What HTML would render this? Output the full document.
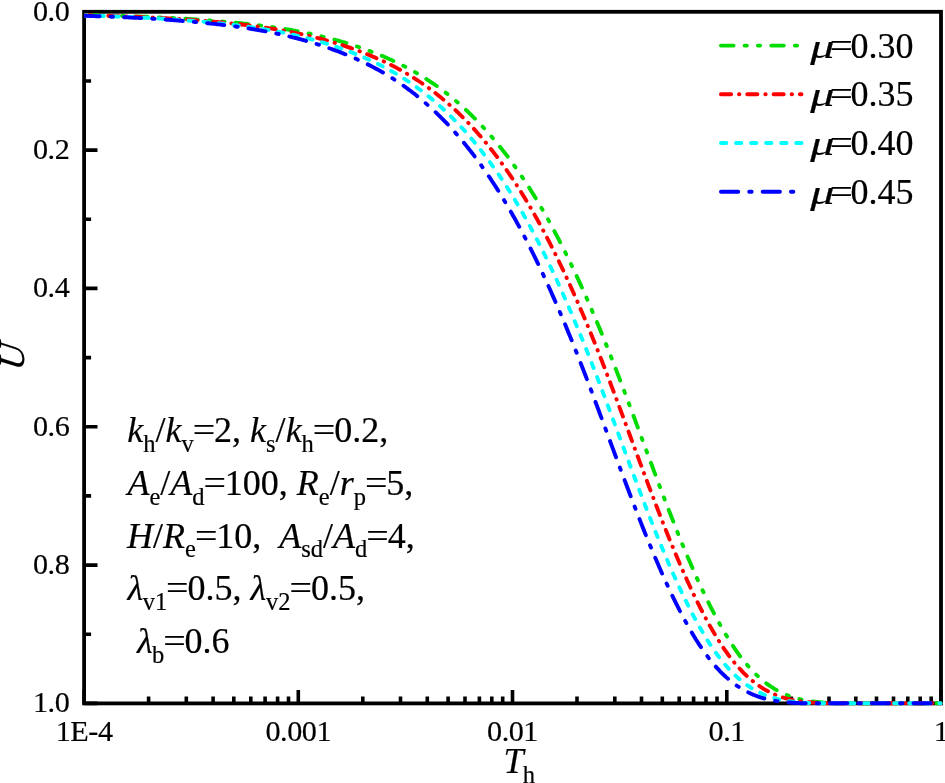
<!DOCTYPE html>
<html lang="en"><head><meta charset="utf-8"><title>U vs Th</title>
<style>html,body{margin:0;padding:0;background:#fff}body{width:945px;height:783px;overflow:hidden}svg{display:block}text{font-family:"Liberation Serif", serif;fill:#000;stroke:#000;stroke-width:0.2px}.t{letter-spacing:-0.45px}.i{font-style:italic}</style>
</head><body>
<svg width="945" height="783" viewBox="0 0 945 783">
<rect width="945" height="783" fill="#fff"/>
<rect x="84.1" y="11.8" width="856.9" height="691.6" fill="none" stroke="#000" stroke-width="3.8"/>
<path d="M84.1,11.8h13.4 M84.1,81.0h7.0 M84.1,150.1h13.4 M84.1,219.3h7.0 M84.1,288.4h13.4 M84.1,357.6h7.0 M84.1,426.8h13.4 M84.1,495.9h7.0 M84.1,565.1h13.4 M84.1,634.2h7.0 M84.1,703.4h13.4 M84.1,703.4v-13.4 M148.6,703.4v-7.0 M186.3,703.4v-7.0 M213.1,703.4v-7.0 M233.8,703.4v-7.0 M250.8,703.4v-7.0 M265.1,703.4v-7.0 M277.6,703.4v-7.0 M288.5,703.4v-7.0 M298.3,703.4v-13.4 M362.8,703.4v-7.0 M400.5,703.4v-7.0 M427.3,703.4v-7.0 M448.1,703.4v-7.0 M465.0,703.4v-7.0 M479.4,703.4v-7.0 M491.8,703.4v-7.0 M502.7,703.4v-7.0 M512.5,703.4v-13.4 M577.0,703.4v-7.0 M614.8,703.4v-7.0 M641.5,703.4v-7.0 M662.3,703.4v-7.0 M679.2,703.4v-7.0 M693.6,703.4v-7.0 M706.0,703.4v-7.0 M717.0,703.4v-7.0 M726.8,703.4v-13.4 M791.3,703.4v-7.0 M829.0,703.4v-7.0 M855.8,703.4v-7.0 M876.5,703.4v-7.0 M893.5,703.4v-7.0 M907.8,703.4v-7.0 M920.2,703.4v-7.0 M931.2,703.4v-7.0 M941.0,703.4v-13.4" stroke="#000" stroke-width="3.6" fill="none"/>
<clipPath id="c"><rect x="84.1" y="9.8" width="858.9" height="696.1"/></clipPath>
<g clip-path="url(#c)" fill="none" stroke-linecap="round" stroke-linejoin="round" stroke-width="3.9">
<path d="M84.1,15.0 L85.6,15.0 L87.1,15.0 L88.6,15.1 L90.1,15.1 L91.6,15.1 L93.1,15.2 L94.6,15.2 L96.1,15.2 L97.6,15.3 L99.1,15.3 L100.6,15.3 L102.1,15.4 L103.6,15.4 L105.1,15.4 L106.6,15.5 L108.1,15.5 L109.6,15.6 L111.1,15.6 L112.6,15.7 L114.1,15.7 L115.6,15.7 L117.1,15.8 L118.6,15.8 L120.1,15.9 L121.6,15.9 L123.1,16.0 L124.6,16.0 L126.1,16.1 L127.6,16.1 L129.1,16.2 L130.6,16.2 L132.1,16.3 L133.6,16.3 L135.1,16.4 L136.6,16.4 L138.1,16.5 L139.6,16.5 L141.1,16.6 L142.6,16.7 L144.1,16.7 L145.6,16.8 L147.1,16.8 L148.6,16.9 L150.1,17.0 L151.6,17.0 L153.1,17.1 L154.6,17.2 L156.1,17.2 L157.6,17.3 L159.1,17.4 L160.6,17.4 L162.1,17.5 L163.6,17.6 L165.1,17.6 L166.6,17.7 L168.1,17.8 L169.6,17.9 L171.1,18.0 L172.6,18.0 L174.1,18.1 L175.6,18.2 L177.1,18.3 L178.6,18.4 L180.1,18.5 L181.6,18.5 L183.1,18.6 L184.6,18.7 L186.1,18.8 L187.6,18.9 L189.1,19.0 L190.6,19.1 L192.1,19.2 L193.6,19.3 L195.1,19.4 L196.6,19.5 L198.1,19.6 L199.6,19.7 L201.1,19.8 L202.6,19.9 L204.1,20.0 L205.6,20.1 L207.1,20.3 L208.6,20.4 L210.1,20.5 L211.6,20.6 L213.1,20.7 L214.6,20.8 L216.1,21.0 L217.6,21.1 L219.1,21.2 L220.6,21.3 L222.1,21.5 L223.6,21.6 L225.1,21.7 L226.6,21.9 L228.1,22.0 L229.6,22.2 L231.1,22.3 L232.6,22.4 L234.1,22.6 L235.6,22.7 L237.1,22.9 L238.6,23.0 L240.1,23.2 L241.6,23.3 L243.1,23.5 L244.6,23.6 L246.1,23.8 L247.6,24.0 L249.1,24.1 L250.6,24.3 L252.1,24.5 L253.6,24.6 L255.1,24.8 L256.6,25.0 L258.1,25.2 L259.6,25.4 L261.1,25.6 L262.6,25.7 L264.1,25.9 L265.6,26.1 L267.1,26.3 L268.6,26.5 L270.1,26.8 L271.6,27.0 L273.1,27.2 L274.6,27.4 L276.1,27.6 L277.6,27.8 L279.1,28.1 L280.6,28.3 L282.1,28.5 L283.6,28.8 L285.1,29.0 L286.6,29.3 L288.1,29.5 L289.6,29.8 L291.1,30.0 L292.6,30.3 L294.1,30.6 L295.6,30.8 L297.1,31.1 L298.6,31.4 L300.1,31.7 L301.6,32.0 L303.1,32.3 L304.6,32.6 L306.1,32.9 L307.6,33.2 L309.1,33.5 L310.6,33.8 L312.1,34.2 L313.6,34.5 L315.1,34.8 L316.6,35.2 L318.1,35.5 L319.6,35.9 L321.1,36.2 L322.6,36.6 L324.1,36.9 L325.6,37.3 L327.1,37.7 L328.6,38.1 L330.1,38.5 L331.6,38.9 L333.1,39.3 L334.6,39.7 L336.1,40.1 L337.6,40.5 L339.1,40.9 L340.6,41.3 L342.1,41.8 L343.6,42.2 L345.1,42.7 L346.6,43.1 L348.1,43.6 L349.6,44.1 L351.1,44.5 L352.6,45.0 L354.1,45.5 L355.6,46.0 L357.1,46.5 L358.6,47.0 L360.1,47.5 L361.6,48.0 L363.1,48.6 L364.6,49.1 L366.1,49.6 L367.6,50.2 L369.1,50.8 L370.6,51.3 L372.1,51.9 L373.6,52.5 L375.1,53.1 L376.6,53.7 L378.1,54.3 L379.6,54.9 L381.1,55.5 L382.6,56.1 L384.1,56.8 L385.6,57.4 L387.1,58.1 L388.6,58.7 L390.1,59.4 L391.6,60.1 L393.1,60.8 L394.6,61.5 L396.1,62.2 L397.6,62.9 L399.1,63.6 L400.6,64.4 L402.1,65.1 L403.6,65.9 L405.1,66.7 L406.6,67.5 L408.1,68.3 L409.6,69.1 L411.1,69.9 L412.6,70.7 L414.1,71.6 L415.6,72.5 L417.1,73.3 L418.6,74.2 L420.1,75.1 L421.6,76.0 L423.1,77.0 L424.6,77.9 L426.1,78.9 L427.6,79.8 L429.1,80.8 L430.6,81.8 L432.1,82.8 L433.6,83.8 L435.1,84.9 L436.6,85.9 L438.1,87.0 L439.6,88.1 L441.1,89.2 L442.6,90.3 L444.1,91.5 L445.6,92.6 L447.1,93.8 L448.6,95.0 L450.1,96.2 L451.6,97.4 L453.1,98.6 L454.6,99.9 L456.1,101.1 L457.6,102.4 L459.1,103.7 L460.6,105.0 L462.1,106.4 L463.6,107.7 L465.1,109.1 L466.6,110.5 L468.1,111.9 L469.6,113.4 L471.1,114.8 L472.6,116.3 L474.1,117.8 L475.6,119.3 L477.1,120.8 L478.6,122.4 L480.1,124.0 L481.6,125.6 L483.1,127.2 L484.6,128.8 L486.1,130.5 L487.6,132.1 L489.1,133.8 L490.6,135.5 L492.1,137.3 L493.6,139.1 L495.1,140.8 L496.6,142.6 L498.1,144.5 L499.6,146.3 L501.1,148.2 L502.6,150.1 L504.1,152.0 L505.6,154.0 L507.1,155.9 L508.6,157.9 L510.1,160.0 L511.6,162.0 L513.1,164.1 L514.6,166.2 L516.1,168.3 L517.6,170.4 L519.1,172.6 L520.6,174.8 L522.1,177.0 L523.6,179.2 L525.1,181.5 L526.6,183.8 L528.1,186.1 L529.6,188.4 L531.1,190.8 L532.6,193.2 L534.1,195.6 L535.6,198.1 L537.1,200.6 L538.6,203.1 L540.1,205.6 L541.6,208.2 L543.1,210.8 L544.6,213.4 L546.1,216.0 L547.6,218.7 L549.1,221.4 L550.6,224.1 L552.1,226.9 L553.6,229.7 L555.1,232.5 L556.6,235.4 L558.1,238.2 L559.6,241.1 L561.1,244.1 L562.6,247.0 L564.1,250.0 L565.6,253.0 L567.1,256.1 L568.6,259.1 L570.1,262.2 L571.6,265.3 L573.1,268.5 L574.6,271.7 L576.1,274.9 L577.6,278.1 L579.1,281.4 L580.6,284.6 L582.1,288.0 L583.6,291.3 L585.1,294.7 L586.6,298.0 L588.1,301.5 L589.6,304.9 L591.1,308.4 L592.6,311.9 L594.1,315.4 L595.6,318.9 L597.1,322.5 L598.6,326.1 L600.1,329.7 L601.6,333.3 L603.1,337.0 L604.6,340.7 L606.1,344.4 L607.6,348.2 L609.1,351.9 L610.6,355.7 L612.1,359.5 L613.6,363.4 L615.1,367.2 L616.6,371.1 L618.1,375.0 L619.6,378.9 L621.1,382.9 L622.6,386.8 L624.1,390.8 L625.6,394.8 L627.1,398.7 L628.6,402.7 L630.1,406.8 L631.6,410.8 L633.1,414.8 L634.6,418.8 L636.1,422.9 L637.6,426.9 L639.1,431.0 L640.6,435.0 L642.1,439.1 L643.6,443.1 L645.1,447.2 L646.6,451.2 L648.1,455.2 L649.6,459.3 L651.1,463.3 L652.6,467.3 L654.1,471.4 L655.6,475.4 L657.1,479.4 L658.6,483.4 L660.1,487.3 L661.6,491.3 L663.1,495.2 L664.6,499.2 L666.1,503.1 L667.6,507.0 L669.1,510.9 L670.6,514.7 L672.1,518.6 L673.6,522.4 L675.1,526.2 L676.6,530.0 L678.1,533.7 L679.6,537.4 L681.1,541.1 L682.6,544.8 L684.1,548.4 L685.6,552.0 L687.1,555.6 L688.6,559.1 L690.1,562.6 L691.6,566.1 L693.1,569.5 L694.6,572.9 L696.1,576.3 L697.6,579.6 L699.1,582.9 L700.6,586.1 L702.1,589.4 L703.6,592.5 L705.1,595.7 L706.6,598.8 L708.1,601.8 L709.6,604.8 L711.1,607.8 L712.6,610.7 L714.1,613.6 L715.6,616.5 L717.1,619.3 L718.6,622.0 L720.1,624.7 L721.6,627.4 L723.1,630.0 L724.6,632.6 L726.1,635.1 L727.6,637.6 L729.1,640.0 L730.6,642.3 L732.1,644.7 L733.6,646.9 L735.1,649.1 L736.6,651.3 L738.1,653.4 L739.6,655.5 L741.1,657.4 L742.6,659.4 L744.1,661.3 L745.6,663.1 L747.1,664.9 L748.6,666.6 L750.1,668.3 L751.6,669.9 L753.1,671.5 L754.6,673.0 L756.1,674.5 L757.6,675.9 L759.1,677.3 L760.6,678.6 L762.1,679.9 L763.6,681.1 L765.1,682.3 L766.6,683.5 L768.1,684.6 L769.6,685.6 L771.1,686.7 L772.6,687.6 L774.1,688.6 L775.6,689.5 L777.1,690.3 L778.6,691.2 L780.1,692.0 L781.6,692.7 L783.1,693.4 L784.6,694.1 L786.1,694.7 L787.6,695.3 L789.1,695.9 L790.6,696.4 L792.1,697.0 L793.6,697.4 L795.1,697.9 L796.6,698.3 L798.1,698.7 L799.6,699.1 L801.1,699.5 L802.6,699.8 L804.1,700.1 L805.6,700.4 L807.1,700.6 L808.6,700.9 L810.1,701.1 L811.6,701.3 L813.1,701.5 L814.6,701.7 L816.1,701.9 L817.6,702.0 L819.1,702.2 L820.6,702.3 L822.1,702.4 L823.6,702.6 L825.1,702.7 L826.6,702.8 L828.1,702.9 L829.6,703.0 L831.1,703.0 L832.6,703.1 L834.1,703.2 L835.6,703.2 L837.1,703.2 L838.6,703.2 L840.1,703.2 L841.6,703.2 L843.1,703.2 L844.6,703.2 L846.1,703.2 L847.6,703.2 L849.1,703.2 L850.6,703.2 L852.1,703.2 L853.6,703.2 L855.1,703.2 L856.6,703.2 L858.1,703.2 L859.6,703.2 L861.1,703.2 L862.6,703.2 L864.1,703.2 L865.6,703.2 L867.1,703.2 L868.6,703.2 L870.1,703.2 L871.6,703.2 L873.1,703.2 L874.6,703.2 L876.1,703.2 L877.6,703.2 L879.1,703.2 L880.6,703.2 L882.1,703.2 L883.6,703.2 L885.1,703.2 L886.6,703.2 L888.1,703.2 L889.6,703.2 L891.1,703.2 L892.6,703.2 L894.1,703.2 L895.6,703.2 L897.1,703.2 L898.6,703.2 L900.1,703.2 L901.6,703.2 L903.1,703.2 L904.6,703.2 L906.1,703.2 L907.6,703.2 L909.1,703.2 L910.6,703.2 L912.1,703.2 L913.6,703.2 L915.1,703.2 L916.6,703.2 L918.1,703.2 L919.6,703.2 L921.1,703.2 L922.6,703.2 L924.1,703.2 L925.6,703.2 L927.1,703.2 L928.6,703.2 L930.1,703.2 L931.6,703.2 L933.1,703.2 L934.6,703.2 L936.1,703.2 L937.6,703.2 L939.1,703.2 L940.6,703.2" stroke="#00dc00" stroke-dasharray="12.6 11.05 2.25 11.05 2.25 11.05" stroke-dashoffset="49.37"/>
<path d="M84.1,15.2 L85.6,15.2 L87.1,15.3 L88.6,15.3 L90.1,15.3 L91.6,15.4 L93.1,15.4 L94.6,15.5 L96.1,15.5 L97.6,15.5 L99.1,15.6 L100.6,15.6 L102.1,15.7 L103.6,15.7 L105.1,15.7 L106.6,15.8 L108.1,15.8 L109.6,15.9 L111.1,15.9 L112.6,16.0 L114.1,16.0 L115.6,16.1 L117.1,16.1 L118.6,16.2 L120.1,16.2 L121.6,16.3 L123.1,16.3 L124.6,16.4 L126.1,16.4 L127.6,16.5 L129.1,16.5 L130.6,16.6 L132.1,16.7 L133.6,16.7 L135.1,16.8 L136.6,16.8 L138.1,16.9 L139.6,17.0 L141.1,17.0 L142.6,17.1 L144.1,17.2 L145.6,17.2 L147.1,17.3 L148.6,17.4 L150.1,17.4 L151.6,17.5 L153.1,17.6 L154.6,17.7 L156.1,17.7 L157.6,17.8 L159.1,17.9 L160.6,18.0 L162.1,18.1 L163.6,18.1 L165.1,18.2 L166.6,18.3 L168.1,18.4 L169.6,18.5 L171.1,18.6 L172.6,18.7 L174.1,18.7 L175.6,18.8 L177.1,18.9 L178.6,19.0 L180.1,19.1 L181.6,19.2 L183.1,19.3 L184.6,19.4 L186.1,19.5 L187.6,19.6 L189.1,19.7 L190.6,19.8 L192.1,19.9 L193.6,20.1 L195.1,20.2 L196.6,20.3 L198.1,20.4 L199.6,20.5 L201.1,20.6 L202.6,20.8 L204.1,20.9 L205.6,21.0 L207.1,21.1 L208.6,21.2 L210.1,21.4 L211.6,21.5 L213.1,21.6 L214.6,21.8 L216.1,21.9 L217.6,22.0 L219.1,22.2 L220.6,22.3 L222.1,22.5 L223.6,22.6 L225.1,22.8 L226.6,22.9 L228.1,23.0 L229.6,23.2 L231.1,23.4 L232.6,23.5 L234.1,23.7 L235.6,23.8 L237.1,24.0 L238.6,24.2 L240.1,24.3 L241.6,24.5 L243.1,24.7 L244.6,24.9 L246.1,25.0 L247.6,25.2 L249.1,25.4 L250.6,25.6 L252.1,25.8 L253.6,26.0 L255.1,26.2 L256.6,26.4 L258.1,26.6 L259.6,26.8 L261.1,27.0 L262.6,27.2 L264.1,27.4 L265.6,27.7 L267.1,27.9 L268.6,28.1 L270.1,28.4 L271.6,28.6 L273.1,28.8 L274.6,29.1 L276.1,29.3 L277.6,29.6 L279.1,29.8 L280.6,30.1 L282.1,30.4 L283.6,30.6 L285.1,30.9 L286.6,31.2 L288.1,31.5 L289.6,31.7 L291.1,32.0 L292.6,32.3 L294.1,32.6 L295.6,32.9 L297.1,33.3 L298.6,33.6 L300.1,33.9 L301.6,34.2 L303.1,34.5 L304.6,34.9 L306.1,35.2 L307.6,35.6 L309.1,35.9 L310.6,36.3 L312.1,36.6 L313.6,37.0 L315.1,37.4 L316.6,37.8 L318.1,38.1 L319.6,38.5 L321.1,38.9 L322.6,39.3 L324.1,39.7 L325.6,40.2 L327.1,40.6 L328.6,41.0 L330.1,41.4 L331.6,41.9 L333.1,42.3 L334.6,42.8 L336.1,43.2 L337.6,43.7 L339.1,44.2 L340.6,44.6 L342.1,45.1 L343.6,45.6 L345.1,46.1 L346.6,46.6 L348.1,47.1 L349.6,47.6 L351.1,48.1 L352.6,48.7 L354.1,49.2 L355.6,49.8 L357.1,50.3 L358.6,50.9 L360.1,51.4 L361.6,52.0 L363.1,52.6 L364.6,53.2 L366.1,53.8 L367.6,54.4 L369.1,55.0 L370.6,55.6 L372.1,56.2 L373.6,56.9 L375.1,57.5 L376.6,58.2 L378.1,58.8 L379.6,59.5 L381.1,60.2 L382.6,60.9 L384.1,61.6 L385.6,62.3 L387.1,63.1 L388.6,63.8 L390.1,64.5 L391.6,65.3 L393.1,66.1 L394.6,66.8 L396.1,67.6 L397.6,68.4 L399.1,69.3 L400.6,70.1 L402.1,70.9 L403.6,71.8 L405.1,72.6 L406.6,73.5 L408.1,74.4 L409.6,75.3 L411.1,76.2 L412.6,77.2 L414.1,78.1 L415.6,79.1 L417.1,80.0 L418.6,81.0 L420.1,82.0 L421.6,83.0 L423.1,84.1 L424.6,85.1 L426.1,86.2 L427.6,87.2 L429.1,88.3 L430.6,89.4 L432.1,90.6 L433.6,91.7 L435.1,92.8 L436.6,94.0 L438.1,95.2 L439.6,96.4 L441.1,97.6 L442.6,98.9 L444.1,100.1 L445.6,101.4 L447.1,102.7 L448.6,104.0 L450.1,105.3 L451.6,106.7 L453.1,108.0 L454.6,109.4 L456.1,110.8 L457.6,112.2 L459.1,113.7 L460.6,115.1 L462.1,116.6 L463.6,118.1 L465.1,119.6 L466.6,121.1 L468.1,122.7 L469.6,124.3 L471.1,125.9 L472.6,127.5 L474.1,129.1 L475.6,130.8 L477.1,132.5 L478.6,134.2 L480.1,135.9 L481.6,137.6 L483.1,139.4 L484.6,141.2 L486.1,143.0 L487.6,144.8 L489.1,146.7 L490.6,148.6 L492.1,150.5 L493.6,152.4 L495.1,154.4 L496.6,156.3 L498.1,158.3 L499.6,160.4 L501.1,162.4 L502.6,164.5 L504.1,166.6 L505.6,168.7 L507.1,170.8 L508.6,173.0 L510.1,175.2 L511.6,177.4 L513.1,179.7 L514.6,181.9 L516.1,184.2 L517.6,186.6 L519.1,188.9 L520.6,191.3 L522.1,193.7 L523.6,196.1 L525.1,198.6 L526.6,201.1 L528.1,203.6 L529.6,206.1 L531.1,208.7 L532.6,211.3 L534.1,213.9 L535.6,216.6 L537.1,219.2 L538.6,222.0 L540.1,224.7 L541.6,227.5 L543.1,230.3 L544.6,233.1 L546.1,235.9 L547.6,238.8 L549.1,241.7 L550.6,244.6 L552.1,247.6 L553.6,250.6 L555.1,253.6 L556.6,256.7 L558.1,259.7 L559.6,262.8 L561.1,266.0 L562.6,269.1 L564.1,272.3 L565.6,275.5 L567.1,278.8 L568.6,282.0 L570.1,285.3 L571.6,288.6 L573.1,292.0 L574.6,295.3 L576.1,298.7 L577.6,302.1 L579.1,305.6 L580.6,309.1 L582.1,312.6 L583.6,316.1 L585.1,319.6 L586.6,323.2 L588.1,326.8 L589.6,330.4 L591.1,334.1 L592.6,337.7 L594.1,341.4 L595.6,345.2 L597.1,348.9 L598.6,352.7 L600.1,356.5 L601.6,360.3 L603.1,364.2 L604.6,368.0 L606.1,371.9 L607.6,375.8 L609.1,379.7 L610.6,383.7 L612.1,387.6 L613.6,391.6 L615.1,395.5 L616.6,399.5 L618.1,403.5 L619.6,407.6 L621.1,411.6 L622.6,415.6 L624.1,419.6 L625.6,423.7 L627.1,427.7 L628.6,431.8 L630.1,435.8 L631.6,439.9 L633.1,443.9 L634.6,448.0 L636.1,452.0 L637.6,456.0 L639.1,460.1 L640.6,464.1 L642.1,468.1 L643.6,472.2 L645.1,476.2 L646.6,480.2 L648.1,484.2 L649.6,488.1 L651.1,492.1 L652.6,496.0 L654.1,500.0 L655.6,503.9 L657.1,507.8 L658.6,511.6 L660.1,515.5 L661.6,519.3 L663.1,523.2 L664.6,526.9 L666.1,530.7 L667.6,534.4 L669.1,538.2 L670.6,541.8 L672.1,545.5 L673.6,549.1 L675.1,552.7 L676.6,556.3 L678.1,559.8 L679.6,563.3 L681.1,566.8 L682.6,570.2 L684.1,573.6 L685.6,576.9 L687.1,580.3 L688.6,583.5 L690.1,586.8 L691.6,590.0 L693.1,593.2 L694.6,596.3 L696.1,599.4 L697.6,602.4 L699.1,605.4 L700.6,608.4 L702.1,611.3 L703.6,614.2 L705.1,617.0 L706.6,619.8 L708.1,622.6 L709.6,625.3 L711.1,627.9 L712.6,630.5 L714.1,633.1 L715.6,635.6 L717.1,638.0 L718.6,640.5 L720.1,642.8 L721.6,645.1 L723.1,647.4 L724.6,649.6 L726.1,651.7 L727.6,653.8 L729.1,655.9 L730.6,657.8 L732.1,659.8 L733.6,661.6 L735.1,663.5 L736.6,665.2 L738.1,666.9 L739.6,668.6 L741.1,670.2 L742.6,671.8 L744.1,673.3 L745.6,674.8 L747.1,676.2 L748.6,677.5 L750.1,678.9 L751.6,680.1 L753.1,681.4 L754.6,682.6 L756.1,683.7 L757.6,684.8 L759.1,685.9 L760.6,686.9 L762.1,687.8 L763.6,688.8 L765.1,689.7 L766.6,690.5 L768.1,691.3 L769.6,692.1 L771.1,692.8 L772.6,693.5 L774.1,694.2 L775.6,694.8 L777.1,695.4 L778.6,696.0 L780.1,696.5 L781.6,697.1 L783.1,697.5 L784.6,698.0 L786.1,698.4 L787.6,698.8 L789.1,699.2 L790.6,699.5 L792.1,699.8 L793.6,700.1 L795.1,700.4 L796.6,700.7 L798.1,700.9 L799.6,701.2 L801.1,701.4 L802.6,701.6 L804.1,701.7 L805.6,701.9 L807.1,702.1 L808.6,702.2 L810.1,702.3 L811.6,702.5 L813.1,702.6 L814.6,702.7 L816.1,702.8 L817.6,702.9 L819.1,703.0 L820.6,703.1 L822.1,703.1 L823.6,703.2 L825.1,703.2 L826.6,703.2 L828.1,703.2 L829.6,703.2 L831.1,703.2 L832.6,703.2 L834.1,703.2 L835.6,703.2 L837.1,703.2 L838.6,703.2 L840.1,703.2 L841.6,703.2 L843.1,703.2 L844.6,703.2 L846.1,703.2 L847.6,703.2 L849.1,703.2 L850.6,703.2 L852.1,703.2 L853.6,703.2 L855.1,703.2 L856.6,703.2 L858.1,703.2 L859.6,703.2 L861.1,703.2 L862.6,703.2 L864.1,703.2 L865.6,703.2 L867.1,703.2 L868.6,703.2 L870.1,703.2 L871.6,703.2 L873.1,703.2 L874.6,703.2 L876.1,703.2 L877.6,703.2 L879.1,703.2 L880.6,703.2 L882.1,703.2 L883.6,703.2 L885.1,703.2 L886.6,703.2 L888.1,703.2 L889.6,703.2 L891.1,703.2 L892.6,703.2 L894.1,703.2 L895.6,703.2 L897.1,703.2 L898.6,703.2 L900.1,703.2 L901.6,703.2 L903.1,703.2 L904.6,703.2 L906.1,703.2 L907.6,703.2 L909.1,703.2 L910.6,703.2 L912.1,703.2 L913.6,703.2 L915.1,703.2 L916.6,703.2 L918.1,703.2 L919.6,703.2 L921.1,703.2 L922.6,703.2 L924.1,703.2 L925.6,703.2 L927.1,703.2 L928.6,703.2 L930.1,703.2 L931.6,703.2 L933.1,703.2 L934.6,703.2 L936.1,703.2 L937.6,703.2 L939.1,703.2 L940.6,703.2" stroke="#ff0000" stroke-dasharray="10.2 7.85 0.4 7.85" stroke-dashoffset="1.97"/>
<path d="M84.1,15.5 L85.6,15.5 L87.1,15.5 L88.6,15.6 L90.1,15.6 L91.6,15.7 L93.1,15.7 L94.6,15.8 L96.1,15.8 L97.6,15.8 L99.1,15.9 L100.6,15.9 L102.1,16.0 L103.6,16.0 L105.1,16.1 L106.6,16.1 L108.1,16.2 L109.6,16.2 L111.1,16.3 L112.6,16.3 L114.1,16.4 L115.6,16.5 L117.1,16.5 L118.6,16.6 L120.1,16.6 L121.6,16.7 L123.1,16.7 L124.6,16.8 L126.1,16.9 L127.6,16.9 L129.1,17.0 L130.6,17.1 L132.1,17.1 L133.6,17.2 L135.1,17.3 L136.6,17.3 L138.1,17.4 L139.6,17.5 L141.1,17.5 L142.6,17.6 L144.1,17.7 L145.6,17.8 L147.1,17.8 L148.6,17.9 L150.1,18.0 L151.6,18.1 L153.1,18.2 L154.6,18.2 L156.1,18.3 L157.6,18.4 L159.1,18.5 L160.6,18.6 L162.1,18.7 L163.6,18.8 L165.1,18.9 L166.6,19.0 L168.1,19.1 L169.6,19.2 L171.1,19.3 L172.6,19.4 L174.1,19.5 L175.6,19.6 L177.1,19.7 L178.6,19.8 L180.1,19.9 L181.6,20.0 L183.1,20.1 L184.6,20.2 L186.1,20.3 L187.6,20.4 L189.1,20.6 L190.6,20.7 L192.1,20.8 L193.6,20.9 L195.1,21.0 L196.6,21.2 L198.1,21.3 L199.6,21.4 L201.1,21.5 L202.6,21.7 L204.1,21.8 L205.6,21.9 L207.1,22.1 L208.6,22.2 L210.1,22.4 L211.6,22.5 L213.1,22.7 L214.6,22.8 L216.1,22.9 L217.6,23.1 L219.1,23.3 L220.6,23.4 L222.1,23.6 L223.6,23.7 L225.1,23.9 L226.6,24.1 L228.1,24.2 L229.6,24.4 L231.1,24.6 L232.6,24.7 L234.1,24.9 L235.6,25.1 L237.1,25.3 L238.6,25.5 L240.1,25.7 L241.6,25.9 L243.1,26.0 L244.6,26.2 L246.1,26.5 L247.6,26.7 L249.1,26.9 L250.6,27.1 L252.1,27.3 L253.6,27.5 L255.1,27.7 L256.6,28.0 L258.1,28.2 L259.6,28.4 L261.1,28.7 L262.6,28.9 L264.1,29.2 L265.6,29.4 L267.1,29.7 L268.6,29.9 L270.1,30.2 L271.6,30.4 L273.1,30.7 L274.6,31.0 L276.1,31.3 L277.6,31.6 L279.1,31.8 L280.6,32.1 L282.1,32.4 L283.6,32.7 L285.1,33.0 L286.6,33.4 L288.1,33.7 L289.6,34.0 L291.1,34.3 L292.6,34.7 L294.1,35.0 L295.6,35.3 L297.1,35.7 L298.6,36.0 L300.1,36.4 L301.6,36.8 L303.1,37.1 L304.6,37.5 L306.1,37.9 L307.6,38.3 L309.1,38.7 L310.6,39.1 L312.1,39.5 L313.6,39.9 L315.1,40.3 L316.6,40.7 L318.1,41.1 L319.6,41.6 L321.1,42.0 L322.6,42.5 L324.1,42.9 L325.6,43.4 L327.1,43.8 L328.6,44.3 L330.1,44.8 L331.6,45.3 L333.1,45.8 L334.6,46.3 L336.1,46.8 L337.6,47.3 L339.1,47.8 L340.6,48.3 L342.1,48.9 L343.6,49.4 L345.1,49.9 L346.6,50.5 L348.1,51.1 L349.6,51.6 L351.1,52.2 L352.6,52.8 L354.1,53.4 L355.6,54.0 L357.1,54.6 L358.6,55.2 L360.1,55.8 L361.6,56.5 L363.1,57.1 L364.6,57.7 L366.1,58.4 L367.6,59.1 L369.1,59.8 L370.6,60.4 L372.1,61.1 L373.6,61.8 L375.1,62.6 L376.6,63.3 L378.1,64.0 L379.6,64.8 L381.1,65.5 L382.6,66.3 L384.1,67.1 L385.6,67.9 L387.1,68.7 L388.6,69.5 L390.1,70.4 L391.6,71.2 L393.1,72.1 L394.6,72.9 L396.1,73.8 L397.6,74.7 L399.1,75.6 L400.6,76.5 L402.1,77.5 L403.6,78.4 L405.1,79.4 L406.6,80.4 L408.1,81.3 L409.6,82.3 L411.1,83.4 L412.6,84.4 L414.1,85.5 L415.6,86.5 L417.1,87.6 L418.6,88.7 L420.1,89.8 L421.6,90.9 L423.1,92.1 L424.6,93.2 L426.1,94.4 L427.6,95.6 L429.1,96.8 L430.6,98.0 L432.1,99.3 L433.6,100.5 L435.1,101.8 L436.6,103.1 L438.1,104.4 L439.6,105.8 L441.1,107.1 L442.6,108.5 L444.1,109.9 L445.6,111.3 L447.1,112.7 L448.6,114.1 L450.1,115.6 L451.6,117.1 L453.1,118.6 L454.6,120.1 L456.1,121.7 L457.6,123.2 L459.1,124.8 L460.6,126.4 L462.1,128.0 L463.6,129.7 L465.1,131.3 L466.6,133.0 L468.1,134.7 L469.6,136.5 L471.1,138.2 L472.6,140.0 L474.1,141.8 L475.6,143.6 L477.1,145.5 L478.6,147.3 L480.1,149.2 L481.6,151.1 L483.1,153.1 L484.6,155.0 L486.1,157.0 L487.6,159.0 L489.1,161.0 L490.6,163.1 L492.1,165.2 L493.6,167.3 L495.1,169.4 L496.6,171.6 L498.1,173.7 L499.6,175.9 L501.1,178.2 L502.6,180.4 L504.1,182.7 L505.6,185.0 L507.1,187.3 L508.6,189.7 L510.1,192.1 L511.6,194.5 L513.1,196.9 L514.6,199.4 L516.1,201.9 L517.6,204.4 L519.1,207.0 L520.6,209.6 L522.1,212.2 L523.6,214.8 L525.1,217.5 L526.6,220.1 L528.1,222.9 L529.6,225.6 L531.1,228.4 L532.6,231.2 L534.1,234.0 L535.6,236.9 L537.1,239.8 L538.6,242.7 L540.1,245.6 L541.6,248.6 L543.1,251.6 L544.6,254.6 L546.1,257.7 L547.6,260.8 L549.1,263.9 L550.6,267.0 L552.1,270.2 L553.6,273.4 L555.1,276.6 L556.6,279.8 L558.1,283.1 L559.6,286.4 L561.1,289.7 L562.6,293.1 L564.1,296.5 L565.6,299.9 L567.1,303.3 L568.6,306.7 L570.1,310.2 L571.6,313.7 L573.1,317.3 L574.6,320.8 L576.1,324.4 L577.6,328.0 L579.1,331.6 L580.6,335.3 L582.1,339.0 L583.6,342.7 L585.1,346.4 L586.6,350.2 L588.1,354.0 L589.6,357.8 L591.1,361.6 L592.6,365.4 L594.1,369.3 L595.6,373.2 L597.1,377.1 L598.6,381.0 L600.1,385.0 L601.6,388.9 L603.1,392.9 L604.6,396.9 L606.1,400.9 L607.6,404.9 L609.1,408.9 L610.6,412.9 L612.1,416.9 L613.6,421.0 L615.1,425.0 L616.6,429.1 L618.1,433.1 L619.6,437.2 L621.1,441.2 L622.6,445.3 L624.1,449.3 L625.6,453.4 L627.1,457.4 L628.6,461.4 L630.1,465.5 L631.6,469.5 L633.1,473.5 L634.6,477.5 L636.1,481.5 L637.6,485.5 L639.1,489.5 L640.6,493.4 L642.1,497.3 L643.6,501.3 L645.1,505.2 L646.6,509.1 L648.1,512.9 L649.6,516.8 L651.1,520.6 L652.6,524.4 L654.1,528.2 L655.6,532.0 L657.1,535.7 L658.6,539.4 L660.1,543.1 L661.6,546.7 L663.1,550.3 L664.6,553.9 L666.1,557.5 L667.6,561.0 L669.1,564.5 L670.6,567.9 L672.1,571.3 L673.6,574.7 L675.1,578.0 L676.6,581.4 L678.1,584.6 L679.6,587.9 L681.1,591.1 L682.6,594.2 L684.1,597.3 L685.6,600.4 L687.1,603.4 L688.6,606.4 L690.1,609.4 L691.6,612.3 L693.1,615.2 L694.6,618.0 L696.1,620.7 L697.6,623.5 L699.1,626.2 L700.6,628.8 L702.1,631.4 L703.6,633.9 L705.1,636.4 L706.6,638.9 L708.1,641.2 L709.6,643.6 L711.1,645.9 L712.6,648.1 L714.1,650.3 L715.6,652.4 L717.1,654.5 L718.6,656.5 L720.1,658.5 L721.6,660.4 L723.1,662.3 L724.6,664.1 L726.1,665.8 L727.6,667.5 L729.1,669.2 L730.6,670.8 L732.1,672.3 L733.6,673.8 L735.1,675.2 L736.6,676.6 L738.1,678.0 L739.6,679.3 L741.1,680.6 L742.6,681.8 L744.1,682.9 L745.6,684.1 L747.1,685.2 L748.6,686.2 L750.1,687.2 L751.6,688.2 L753.1,689.1 L754.6,689.9 L756.1,690.8 L757.6,691.6 L759.1,692.4 L760.6,693.1 L762.1,693.8 L763.6,694.4 L765.1,695.0 L766.6,695.6 L768.1,696.2 L769.6,696.7 L771.1,697.2 L772.6,697.7 L774.1,698.1 L775.6,698.5 L777.1,698.9 L778.6,699.3 L780.1,699.6 L781.6,699.9 L783.1,700.2 L784.6,700.5 L786.1,700.8 L787.6,701.0 L789.1,701.2 L790.6,701.4 L792.1,701.6 L793.6,701.8 L795.1,702.0 L796.6,702.1 L798.1,702.3 L799.6,702.4 L801.1,702.5 L802.6,702.6 L804.1,702.7 L805.6,702.8 L807.1,702.9 L808.6,703.0 L810.1,703.1 L811.6,703.2 L813.1,703.2 L814.6,703.2 L816.1,703.2 L817.6,703.2 L819.1,703.2 L820.6,703.2 L822.1,703.2 L823.6,703.2 L825.1,703.2 L826.6,703.2 L828.1,703.2 L829.6,703.2 L831.1,703.2 L832.6,703.2 L834.1,703.2 L835.6,703.2 L837.1,703.2 L838.6,703.2 L840.1,703.2 L841.6,703.2 L843.1,703.2 L844.6,703.2 L846.1,703.2 L847.6,703.2 L849.1,703.2 L850.6,703.2 L852.1,703.2 L853.6,703.2 L855.1,703.2 L856.6,703.2 L858.1,703.2 L859.6,703.2 L861.1,703.2 L862.6,703.2 L864.1,703.2 L865.6,703.2 L867.1,703.2 L868.6,703.2 L870.1,703.2 L871.6,703.2 L873.1,703.2 L874.6,703.2 L876.1,703.2 L877.6,703.2 L879.1,703.2 L880.6,703.2 L882.1,703.2 L883.6,703.2 L885.1,703.2 L886.6,703.2 L888.1,703.2 L889.6,703.2 L891.1,703.2 L892.6,703.2 L894.1,703.2 L895.6,703.2 L897.1,703.2 L898.6,703.2 L900.1,703.2 L901.6,703.2 L903.1,703.2 L904.6,703.2 L906.1,703.2 L907.6,703.2 L909.1,703.2 L910.6,703.2 L912.1,703.2 L913.6,703.2 L915.1,703.2 L916.6,703.2 L918.1,703.2 L919.6,703.2 L921.1,703.2 L922.6,703.2 L924.1,703.2 L925.6,703.2 L927.1,703.2 L928.6,703.2 L930.1,703.2 L931.6,703.2 L933.1,703.2 L934.6,703.2 L936.1,703.2 L937.6,703.2 L939.1,703.2 L940.6,703.2" stroke="#00ffff" stroke-dasharray="5.4 9.65" stroke-dashoffset="0.80"/>
<path d="M84.1,15.8 L85.6,15.8 L87.1,15.9 L88.6,15.9 L90.1,16.0 L91.6,16.0 L93.1,16.1 L94.6,16.1 L96.1,16.2 L97.6,16.2 L99.1,16.3 L100.6,16.3 L102.1,16.4 L103.6,16.4 L105.1,16.5 L106.6,16.5 L108.1,16.6 L109.6,16.6 L111.1,16.7 L112.6,16.8 L114.1,16.8 L115.6,16.9 L117.1,16.9 L118.6,17.0 L120.1,17.1 L121.6,17.1 L123.1,17.2 L124.6,17.3 L126.1,17.3 L127.6,17.4 L129.1,17.5 L130.6,17.6 L132.1,17.6 L133.6,17.7 L135.1,17.8 L136.6,17.9 L138.1,17.9 L139.6,18.0 L141.1,18.1 L142.6,18.2 L144.1,18.3 L145.6,18.4 L147.1,18.4 L148.6,18.5 L150.1,18.6 L151.6,18.7 L153.1,18.8 L154.6,18.9 L156.1,19.0 L157.6,19.1 L159.1,19.2 L160.6,19.3 L162.1,19.4 L163.6,19.5 L165.1,19.6 L166.6,19.7 L168.1,19.8 L169.6,19.9 L171.1,20.0 L172.6,20.1 L174.1,20.2 L175.6,20.4 L177.1,20.5 L178.6,20.6 L180.1,20.7 L181.6,20.8 L183.1,21.0 L184.6,21.1 L186.1,21.2 L187.6,21.3 L189.1,21.5 L190.6,21.6 L192.1,21.7 L193.6,21.9 L195.1,22.0 L196.6,22.1 L198.1,22.3 L199.6,22.4 L201.1,22.6 L202.6,22.7 L204.1,22.9 L205.6,23.0 L207.1,23.2 L208.6,23.3 L210.1,23.5 L211.6,23.6 L213.1,23.8 L214.6,23.9 L216.1,24.1 L217.6,24.3 L219.1,24.4 L220.6,24.6 L222.1,24.8 L223.6,25.0 L225.1,25.2 L226.6,25.3 L228.1,25.5 L229.6,25.7 L231.1,25.9 L232.6,26.1 L234.1,26.3 L235.6,26.5 L237.1,26.7 L238.6,26.9 L240.1,27.2 L241.6,27.4 L243.1,27.6 L244.6,27.8 L246.1,28.0 L247.6,28.3 L249.1,28.5 L250.6,28.7 L252.1,29.0 L253.6,29.2 L255.1,29.5 L256.6,29.7 L258.1,30.0 L259.6,30.3 L261.1,30.5 L262.6,30.8 L264.1,31.1 L265.6,31.4 L267.1,31.7 L268.6,31.9 L270.1,32.2 L271.6,32.5 L273.1,32.8 L274.6,33.2 L276.1,33.5 L277.6,33.8 L279.1,34.1 L280.6,34.4 L282.1,34.8 L283.6,35.1 L285.1,35.5 L286.6,35.8 L288.1,36.2 L289.6,36.5 L291.1,36.9 L292.6,37.3 L294.1,37.6 L295.6,38.0 L297.1,38.4 L298.6,38.8 L300.1,39.2 L301.6,39.6 L303.1,40.0 L304.6,40.4 L306.1,40.9 L307.6,41.3 L309.1,41.7 L310.6,42.2 L312.1,42.6 L313.6,43.1 L315.1,43.5 L316.6,44.0 L318.1,44.5 L319.6,44.9 L321.1,45.4 L322.6,45.9 L324.1,46.4 L325.6,46.9 L327.1,47.4 L328.6,48.0 L330.1,48.5 L331.6,49.0 L333.1,49.6 L334.6,50.1 L336.1,50.7 L337.6,51.2 L339.1,51.8 L340.6,52.4 L342.1,53.0 L343.6,53.6 L345.1,54.2 L346.6,54.8 L348.1,55.4 L349.6,56.0 L351.1,56.7 L352.6,57.3 L354.1,58.0 L355.6,58.6 L357.1,59.3 L358.6,60.0 L360.1,60.7 L361.6,61.4 L363.1,62.1 L364.6,62.8 L366.1,63.5 L367.6,64.3 L369.1,65.0 L370.6,65.8 L372.1,66.6 L373.6,67.4 L375.1,68.2 L376.6,69.0 L378.1,69.8 L379.6,70.6 L381.1,71.5 L382.6,72.3 L384.1,73.2 L385.6,74.1 L387.1,75.0 L388.6,75.9 L390.1,76.8 L391.6,77.8 L393.1,78.7 L394.6,79.7 L396.1,80.7 L397.6,81.7 L399.1,82.7 L400.6,83.7 L402.1,84.7 L403.6,85.8 L405.1,86.9 L406.6,88.0 L408.1,89.1 L409.6,90.2 L411.1,91.3 L412.6,92.5 L414.1,93.6 L415.6,94.8 L417.1,96.0 L418.6,97.2 L420.1,98.4 L421.6,99.7 L423.1,101.0 L424.6,102.2 L426.1,103.6 L427.6,104.9 L429.1,106.2 L430.6,107.6 L432.1,108.9 L433.6,110.3 L435.1,111.7 L436.6,113.2 L438.1,114.6 L439.6,116.1 L441.1,117.6 L442.6,119.1 L444.1,120.6 L445.6,122.2 L447.1,123.7 L448.6,125.3 L450.1,126.9 L451.6,128.6 L453.1,130.2 L454.6,131.9 L456.1,133.6 L457.6,135.3 L459.1,137.1 L460.6,138.8 L462.1,140.6 L463.6,142.4 L465.1,144.2 L466.6,146.1 L468.1,148.0 L469.6,149.9 L471.1,151.8 L472.6,153.7 L474.1,155.7 L475.6,157.7 L477.1,159.7 L478.6,161.7 L480.1,163.8 L481.6,165.9 L483.1,168.0 L484.6,170.1 L486.1,172.3 L487.6,174.5 L489.1,176.7 L490.6,178.9 L492.1,181.2 L493.6,183.5 L495.1,185.8 L496.6,188.1 L498.1,190.5 L499.6,192.9 L501.1,195.3 L502.6,197.8 L504.1,200.2 L505.6,202.7 L507.1,205.3 L508.6,207.8 L510.1,210.4 L511.6,213.0 L513.1,215.7 L514.6,218.3 L516.1,221.0 L517.6,223.8 L519.1,226.5 L520.6,229.3 L522.1,232.1 L523.6,235.0 L525.1,237.8 L526.6,240.7 L528.1,243.7 L529.6,246.6 L531.1,249.6 L532.6,252.6 L534.1,255.7 L535.6,258.7 L537.1,261.8 L538.6,264.9 L540.1,268.1 L541.6,271.2 L543.1,274.4 L544.6,277.7 L546.1,280.9 L547.6,284.2 L549.1,287.5 L550.6,290.8 L552.1,294.2 L553.6,297.6 L555.1,301.0 L556.6,304.4 L558.1,307.9 L559.6,311.4 L561.1,314.9 L562.6,318.4 L564.1,322.0 L565.6,325.6 L567.1,329.2 L568.6,332.9 L570.1,336.5 L571.6,340.2 L573.1,343.9 L574.6,347.7 L576.1,351.4 L577.6,355.2 L579.1,359.0 L580.6,362.9 L582.1,366.7 L583.6,370.6 L585.1,374.5 L586.6,378.4 L588.1,382.3 L589.6,386.3 L591.1,390.2 L592.6,394.2 L594.1,398.2 L595.6,402.2 L597.1,406.2 L598.6,410.2 L600.1,414.3 L601.6,418.3 L603.1,422.3 L604.6,426.4 L606.1,430.4 L607.6,434.5 L609.1,438.5 L610.6,442.6 L612.1,446.6 L613.6,450.7 L615.1,454.7 L616.6,458.7 L618.1,462.8 L619.6,466.8 L621.1,470.8 L622.6,474.8 L624.1,478.8 L625.6,482.8 L627.1,486.8 L628.6,490.8 L630.1,494.7 L631.6,498.7 L633.1,502.6 L634.6,506.5 L636.1,510.4 L637.6,514.2 L639.1,518.1 L640.6,521.9 L642.1,525.7 L643.6,529.5 L645.1,533.2 L646.6,536.9 L648.1,540.6 L649.6,544.3 L651.1,547.9 L652.6,551.5 L654.1,555.1 L655.6,558.6 L657.1,562.1 L658.6,565.6 L660.1,569.0 L661.6,572.5 L663.1,575.8 L664.6,579.2 L666.1,582.5 L667.6,585.7 L669.1,588.9 L670.6,592.1 L672.1,595.3 L673.6,598.4 L675.1,601.4 L676.6,604.4 L678.1,607.4 L679.6,610.4 L681.1,613.2 L682.6,616.1 L684.1,618.9 L685.6,621.7 L687.1,624.4 L688.6,627.0 L690.1,629.7 L691.6,632.2 L693.1,634.8 L694.6,637.2 L696.1,639.7 L697.6,642.0 L699.1,644.4 L700.6,646.6 L702.1,648.8 L703.6,651.0 L705.1,653.1 L706.6,655.2 L708.1,657.2 L709.6,659.1 L711.1,661.0 L712.6,662.9 L714.1,664.7 L715.6,666.4 L717.1,668.1 L718.6,669.7 L720.1,671.3 L721.6,672.8 L723.1,674.3 L724.6,675.7 L726.1,677.1 L727.6,678.4 L729.1,679.7 L730.6,681.0 L732.1,682.2 L733.6,683.3 L735.1,684.4 L736.6,685.5 L738.1,686.5 L739.6,687.5 L741.1,688.5 L742.6,689.4 L744.1,690.2 L745.6,691.1 L747.1,691.8 L748.6,692.6 L750.1,693.3 L751.6,694.0 L753.1,694.6 L754.6,695.2 L756.1,695.8 L757.6,696.4 L759.1,696.9 L760.6,697.4 L762.1,697.8 L763.6,698.3 L765.1,698.7 L766.6,699.1 L768.1,699.4 L769.6,699.7 L771.1,700.0 L772.6,700.3 L774.1,700.6 L775.6,700.9 L777.1,701.1 L778.6,701.3 L780.1,701.5 L781.6,701.7 L783.1,701.9 L784.6,702.0 L786.1,702.2 L787.6,702.3 L789.1,702.4 L790.6,702.5 L792.1,702.7 L793.6,702.8 L795.1,702.9 L796.6,702.9 L798.1,703.0 L799.6,703.1 L801.1,703.2 L802.6,703.2 L804.1,703.2 L805.6,703.2 L807.1,703.2 L808.6,703.2 L810.1,703.2 L811.6,703.2 L813.1,703.2 L814.6,703.2 L816.1,703.2 L817.6,703.2 L819.1,703.2 L820.6,703.2 L822.1,703.2 L823.6,703.2 L825.1,703.2 L826.6,703.2 L828.1,703.2 L829.6,703.2 L831.1,703.2 L832.6,703.2 L834.1,703.2 L835.6,703.2 L837.1,703.2 L838.6,703.2 L840.1,703.2 L841.6,703.2 L843.1,703.2 L844.6,703.2 L846.1,703.2 L847.6,703.2 L849.1,703.2 L850.6,703.2 L852.1,703.2 L853.6,703.2 L855.1,703.2 L856.6,703.2 L858.1,703.2 L859.6,703.2 L861.1,703.2 L862.6,703.2 L864.1,703.2 L865.6,703.2 L867.1,703.2 L868.6,703.2 L870.1,703.2 L871.6,703.2 L873.1,703.2 L874.6,703.2 L876.1,703.2 L877.6,703.2 L879.1,703.2 L880.6,703.2 L882.1,703.2 L883.6,703.2 L885.1,703.2 L886.6,703.2 L888.1,703.2 L889.6,703.2 L891.1,703.2 L892.6,703.2 L894.1,703.2 L895.6,703.2 L897.1,703.2 L898.6,703.2 L900.1,703.2 L901.6,703.2 L903.1,703.2 L904.6,703.2 L906.1,703.2 L907.6,703.2 L909.1,703.2 L910.6,703.2 L912.1,703.2 L913.6,703.2 L915.1,703.2 L916.6,703.2 L918.1,703.2 L919.6,703.2 L921.1,703.2 L922.6,703.2 L924.1,703.2 L925.6,703.2 L927.1,703.2 L928.6,703.2 L930.1,703.2 L931.6,703.2 L933.1,703.2 L934.6,703.2 L936.1,703.2 L937.6,703.2 L939.1,703.2 L940.6,703.2" stroke="#0000ff" stroke-dasharray="17.3 10.95 2.5 10.95" stroke-dashoffset="1.79"/>
</g>
<g fill="none" stroke-linecap="round" stroke-width="3.9">
<path d="M720.95,45.6H801.5" stroke="#00dc00" stroke-dasharray="12.6 11.05 2.25 11.05 2.25 11.05"/>
<path d="M720.95,94.3H801.5" stroke="#ff0000" stroke-dasharray="10.2 7.85 0.4 7.85"/>
<path d="M720.95,143.0H801.5" stroke="#00ffff" stroke-dasharray="5.4 9.65"/>
<path d="M720.95,191.8H801.5" stroke="#0000ff" stroke-dasharray="17.3 10.95 2.5 10.95"/>
</g>
<text font-size="36" class="i" stroke-width="0" transform="translate(810.3,57.6) scale(1.34,0.93)">μ</text>
<text font-size="36" transform="translate(829.8,57.6) scale(1.14,1)">=</text>
<text font-size="36" x="850.5" y="57.6">0.30</text>
<text font-size="36" class="i" stroke-width="0" transform="translate(810.3,106.4) scale(1.34,0.93)">μ</text>
<text font-size="36" transform="translate(829.8,106.4) scale(1.14,1)">=</text>
<text font-size="36" x="850.5" y="106.4">0.35</text>
<text font-size="36" class="i" stroke-width="0" transform="translate(810.3,155.1) scale(1.34,0.93)">μ</text>
<text font-size="36" transform="translate(829.8,155.1) scale(1.14,1)">=</text>
<text font-size="36" x="850.5" y="155.1">0.40</text>
<text font-size="36" class="i" stroke-width="0" transform="translate(810.3,203.9) scale(1.34,0.93)">μ</text>
<text font-size="36" transform="translate(829.8,203.9) scale(1.14,1)">=</text>
<text font-size="36" x="850.5" y="203.9">0.45</text>
 <text class="t" font-size="30.2" text-anchor="end" x="69.3" y="20.7">0.0</text>
 <text class="t" font-size="30.2" text-anchor="end" x="69.3" y="159.0">0.2</text>
 <text class="t" font-size="30.2" text-anchor="end" x="69.3" y="297.3">0.4</text>
 <text class="t" font-size="30.2" text-anchor="end" x="69.3" y="435.7">0.6</text>
 <text class="t" font-size="30.2" text-anchor="end" x="69.3" y="574.0">0.8</text>
 <text class="t" font-size="30.2" text-anchor="end" x="69.3" y="712.3">1.0</text>
 <text class="t" font-size="30.2" text-anchor="middle" x="84.1" y="741.1">1E-4</text>
 <text class="t" font-size="30.2" text-anchor="middle" x="298.3" y="741.1">0.001</text>
 <text class="t" font-size="30.2" text-anchor="middle" x="512.5" y="741.1">0.01</text>
 <text class="t" font-size="30.2" text-anchor="middle" x="726.8" y="741.1">0.1</text>
 <text class="t" font-size="30.2" text-anchor="middle" x="941.0" y="741.1">1</text>
<text font-size="37" class="i" text-anchor="middle" transform="translate(23.8,357.8) rotate(-90) skewX(-8)">U</text>
<text font-size="36" x="503.5" y="772.9"><tspan class="i">T</tspan><tspan font-size="24.5" dy="9.7" dx="-0.7">h</tspan></text>
<text font-size="36" x="127.3" y="442.4" xml:space="preserve" style="white-space:pre"><tspan class="i">k</tspan><tspan font-size="24.5" dy="9.7">h</tspan><tspan dy="-9.7">/</tspan><tspan class="i">k</tspan><tspan font-size="24.5" dy="9.7">v</tspan><tspan dy="-9.7" dx="-1.1" textLength="22.5" lengthAdjust="spacingAndGlyphs">=</tspan><tspan dx="-1.1">2, </tspan><tspan class="i">k</tspan><tspan font-size="24.5" dy="9.7">s</tspan><tspan dy="-9.7">/</tspan><tspan class="i">k</tspan><tspan font-size="24.5" dy="9.7">h</tspan><tspan dy="-9.7" dx="-1.1" textLength="22.5" lengthAdjust="spacingAndGlyphs">=</tspan><tspan dx="-1.1">0.2,</tspan></text>
<text font-size="36" x="127.4" y="495.0" xml:space="preserve" style="white-space:pre"><tspan class="i">A</tspan><tspan font-size="24.5" dy="9.7">e</tspan><tspan dy="-9.7">/</tspan><tspan class="i">A</tspan><tspan font-size="24.5" dy="9.7">d</tspan><tspan dy="-9.7" dx="-1.1" textLength="22.5" lengthAdjust="spacingAndGlyphs">=</tspan><tspan dx="-1.1">100, </tspan><tspan class="i">R</tspan><tspan font-size="24.5" dy="9.7">e</tspan><tspan dy="-9.7">/</tspan><tspan class="i">r</tspan><tspan font-size="24.5" dy="9.7">p</tspan><tspan dy="-9.7" dx="-1.1" textLength="22.5" lengthAdjust="spacingAndGlyphs">=</tspan><tspan dx="-1.1">5,</tspan></text>
<text font-size="36" x="127.1" y="547.6" xml:space="preserve" style="white-space:pre"><tspan class="i">H</tspan>/<tspan class="i">R</tspan><tspan font-size="24.5" dy="9.7">e</tspan><tspan dy="-9.7" dx="-1.1" textLength="22.5" lengthAdjust="spacingAndGlyphs">=</tspan><tspan dx="-1.1">10,  </tspan><tspan class="i">A</tspan><tspan font-size="24.5" dy="9.7">sd</tspan><tspan dy="-9.7">/</tspan><tspan class="i">A</tspan><tspan font-size="24.5" dy="9.7">d</tspan><tspan dy="-9.7" dx="-1.1" textLength="22.5" lengthAdjust="spacingAndGlyphs">=</tspan><tspan dx="-1.1">4,</tspan></text>
<text font-size="36" x="127.6" y="600.2" xml:space="preserve" style="white-space:pre"><tspan class="i">λ</tspan><tspan font-size="24.5" dy="9.7" dx="-0.5">v1</tspan><tspan dy="-9.7" dx="-1.1" textLength="22.5" lengthAdjust="spacingAndGlyphs">=</tspan><tspan dx="-1.1">0.5, </tspan><tspan class="i">λ</tspan><tspan font-size="24.5" dy="9.7">v2</tspan><tspan dy="-9.7" dx="-1.1" textLength="22.5" lengthAdjust="spacingAndGlyphs">=</tspan><tspan dx="-1.1">0.5,</tspan></text>
<text font-size="36" x="136.9" y="652.8" xml:space="preserve" style="white-space:pre"><tspan class="i">λ</tspan><tspan font-size="24.5" dy="9.7" dx="-0.5">b</tspan><tspan dy="-9.7" dx="-1.1" textLength="22.5" lengthAdjust="spacingAndGlyphs">=</tspan><tspan dx="-1.1">0.6</tspan></text>
</svg></body></html>
